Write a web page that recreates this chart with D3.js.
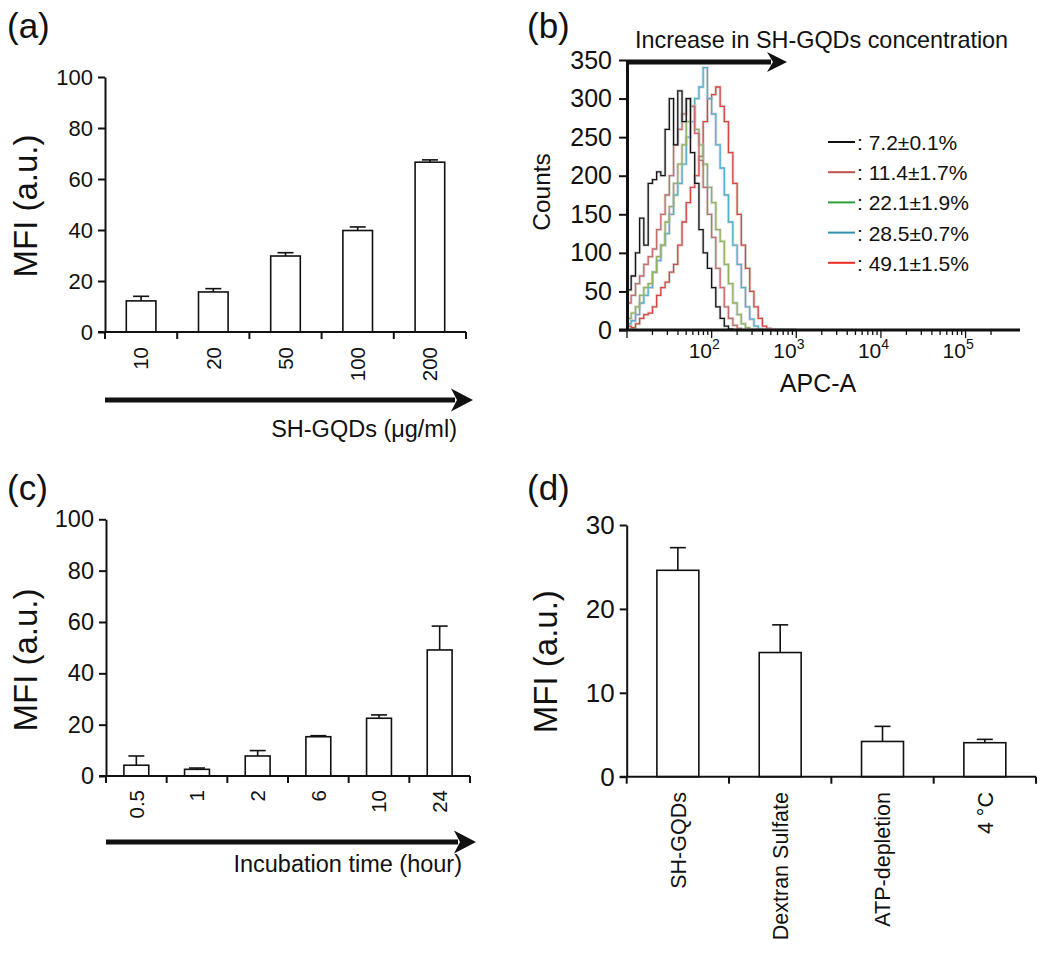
<!DOCTYPE html>
<html><head><meta charset="utf-8">
<script src="https://cdn.jsdelivr.net/npm/d3@7"></script>
<style>body{margin:0;background:#fff} svg{display:block}</style>
</head><body>
<svg id="chart" width="1050" height="962"></svg>
<script>
// ---------------- DATA ----------------
// (a) concentration
const concLabels = ["10", "20", "50", "100", "200"];
const concMFI = [12.2, 15.7, 29.8, 39.8, 66.6];
const concErr = [1.8, 1.3, 1.3, 1.4, 0.9];
const concTicks = [0, 20, 40, 60, 80, 100];

// (c) incubation time
const timeLabels = ["0.5", "1", "2", "6", "10", "24"];
const timeMFI = [4.2, 2.6, 7.8, 15.3, 22.5, 49.1];
const timeErr = [3.6, 0.5, 2.1, 0.4, 1.3, 9.3];
const timeTicks = [0, 20, 40, 60, 80, 100];

// (d) inhibitors
const inhibLabels = ["SH-GQDs", "Dextran Sulfate", "ATP-depletion", "4 \u00B0C"];
const inhibMFI = [24.6, 14.8, 4.2, 4.05];
const inhibErr = [2.7, 3.3, 1.8, 0.4];
const inhibTicks = [0, 10, 20, 30];

// (b) flow cytometry histograms (APC-A bin edges, counts per bin)
const apcBinEdges = [10, 11.2, 12.6, 14.1, 15.8, 17.8, 20, 22.4, 25.1, 28.2,
  31.6, 35.5, 39.8, 44.7, 50.1, 56.2, 63.1, 70.8, 79.4, 89.1,
  100, 112, 126, 141, 158, 178, 200, 224, 251, 282,
  316, 355, 398, 447, 501, 562, 631, 708, 794, 891, 1000];
const counts72 = [52, 70, 100, 145, 110, 190, 195, 205, 200, 260, 300, 240, 310, 270, 300, 230, 190, 130, 100, 80, 55, 30, 15, 5, 1, 0, 0, 0, 0, 0, 0, 0, 0, 0, 0, 0, 0, 0, 0, 0];
const counts114 = [35, 45, 60, 70, 85, 95, 105, 130, 150, 175, 200, 240, 260, 280, 300, 290, 255, 220, 185, 150, 120, 80, 55, 30, 15, 6, 2, 0, 0, 0, 0, 0, 0, 0, 0, 0, 0, 0, 0, 0];
const counts221 = [15, 22, 30, 45, 55, 60, 75, 95, 110, 140, 160, 190, 215, 240, 270, 290, 260, 240, 215, 185, 165, 130, 115, 85, 60, 35, 20, 8, 3, 0, 0, 0, 0, 0, 0, 0, 0, 0, 0, 0];
const counts285 = [8, 12, 20, 35, 45, 55, 75, 90, 110, 125, 150, 175, 190, 215, 250, 270, 300, 315, 340, 300, 280, 240, 210, 175, 140, 110, 85, 55, 30, 14, 5, 1, 0, 0, 0, 0, 0, 0, 0, 0];
const counts491 = [5, 3, 8, 15, 20, 22, 30, 45, 55, 62, 75, 85, 110, 140, 165, 185, 200, 225, 270, 300, 305, 315, 290, 270, 230, 190, 150, 110, 80, 50, 30, 15, 5, 2, 0, 0, 0, 0, 0, 0];
const legendLabels = [": 7.2\u00B10.1%", ": 11.4\u00B11.7%", ": 22.1\u00B11.9%", ": 28.5\u00B10.7%", ": 49.1\u00B11.5%"];
const countTicks = [0, 50, 100, 150, 200, 250, 300, 350];

// ---------------- STYLE ----------------
const FONT = "'Liberation Sans', Arial, Helvetica, sans-serif";
const INK = "#111";
const legendColors = ["#111111", "#c0504d", "#2ea03a", "#2f8fb0", "#f02a22"];
const curveColors = ["#151515", "#c86a66", "#8fb35a", "#4cb0cf", "#d8463e"];

const svg = d3.select("#chart");
svg.append("rect").attr("width", 1050).attr("height", 962).attr("fill", "#fff");

function txt(g, x, y, s, size, anchor, rot) {
  const t = g.append("text").attr("font-family", FONT).attr("font-size", size)
    .attr("fill", INK).attr("text-anchor", anchor || "start").text(s);
  if (rot) t.attr("transform", `translate(${x},${y}) rotate(${rot})`);
  else t.attr("x", x).attr("y", y);
  return t;
}

function arrow(g, x0, x1, y, thick, headLen, headHalf) {
  g.append("line").attr("x1", x0).attr("x2", x1 - headLen + 4).attr("y1", y).attr("y2", y)
    .attr("stroke", INK).attr("stroke-width", thick);
  g.append("path")
    .attr("d", `M${x1},${y} L${x1 - headLen},${y - headHalf} L${x1 - headLen + 6},${y} L${x1 - headLen},${y + headHalf} Z`)
    .attr("fill", INK);
}

function barPanel(o) {
  const g = svg.append("g");
  const x = d3.scaleBand().domain(o.cats).range([o.x0, o.x1]).paddingInner(0.59).paddingOuter(0.295);
  const y = d3.scaleLinear().domain(o.domain).range([o.y0, o.y1]);
  const bw = x.bandwidth();
  // error bars
  const eb = g.selectAll("g.err").data(o.cats).join("g");
  eb.append("line")
    .attr("x1", d => x(d) + bw / 2).attr("x2", d => x(d) + bw / 2)
    .attr("y1", (d, i) => y(o.vals[i])).attr("y2", (d, i) => y(o.vals[i] + o.errs[i]))
    .attr("stroke", INK).attr("stroke-width", 1.6);
  eb.append("line")
    .attr("x1", d => x(d) + bw / 2 - 8).attr("x2", d => x(d) + bw / 2 + 8)
    .attr("y1", (d, i) => y(o.vals[i] + o.errs[i])).attr("y2", (d, i) => y(o.vals[i] + o.errs[i]))
    .attr("stroke", INK).attr("stroke-width", 1.6);
  // bars
  g.selectAll("rect.bar").data(o.cats).join("rect").attr("class", "bar")
    .attr("x", d => x(d)).attr("width", bw)
    .attr("y", (d, i) => y(o.vals[i])).attr("height", (d, i) => y(0) - y(o.vals[i]))
    .attr("fill", "#fff").attr("stroke", INK).attr("stroke-width", 1.6);
  // y axis
  const ya = d3.axisLeft(y).tickValues(o.yTicks).tickSize(7).tickSizeOuter(0).tickPadding(5);
  g.append("g").attr("transform", `translate(${o.x0},0)`).call(ya).call(s => {
    s.select(".domain").attr("stroke", INK).attr("stroke-width", 2);
    s.selectAll(".tick line").attr("stroke", INK).attr("stroke-width", 2);
    s.selectAll(".tick text").attr("font-family", FONT).attr("font-size", o.tickFont).attr("fill", INK);
  });
  // x axis baseline + boundary ticks
  g.append("line").attr("x1", o.x0 - 7).attr("x2", o.x1).attr("y1", y(0)).attr("y2", y(0))
    .attr("stroke", INK).attr("stroke-width", 2);
  const bounds = o.cats.map(c => x(c) - x.step() * x.paddingInner() / 2).concat([o.x1]);
  g.selectAll("line.bt").data(bounds).join("line")
    .attr("x1", d => d).attr("x2", d => d).attr("y1", y(0)).attr("y2", y(0) + 7)
    .attr("stroke", INK).attr("stroke-width", 2);
  // rotated category labels
  o.cats.forEach(c => {
    txt(g, x(c) + bw / 2 + o.catSize * 0.36, o.catTop, c, o.catSize, "end", -90);
  });
  // y label
  txt(g, o.ylx, o.yly, "MFI (a.u.)", 33, "middle", -90);
  return g;
}

// (a)
const ga = barPanel({cats: concLabels, vals: concMFI, errs: concErr, yTicks: concTicks,
  x0: 105, x1: 466, y0: 332, y1: 77, domain: [0, 100], tickFont: 22,
  catSize: 20.5, catTop: 347, ylx: 37, yly: 206});
arrow(ga, 105, 473, 400, 5, 22, 11.5);
txt(ga, 457, 437, "SH-GQDs (\u03BCg/ml)", 23.5, "end");
txt(svg, 7, 38, "(a)", 35, "start");

// (c)
const gc = barPanel({cats: timeLabels, vals: timeMFI, errs: timeErr, yTicks: timeTicks,
  x0: 106, x1: 470, y0: 776, y1: 519.3, domain: [0, 100], tickFont: 23.5,
  catSize: 20.5, catTop: 790, ylx: 36.5, yly: 660});
arrow(gc, 106, 476, 842, 5, 22, 11.5);
txt(gc, 462, 872, "Incubation time (hour)", 23.5, "end");
txt(svg, 7, 500, "(c)", 35, "start");

// (d)
barPanel({cats: inhibLabels, vals: inhibMFI, errs: inhibErr, yTicks: inhibTicks,
  x0: 626.7, x1: 1036, y0: 776.7, y1: 525, domain: [0, 30], tickFont: 26,
  catSize: 21.5, catTop: 792, ylx: 556.5, yly: 661.7});
txt(svg, 527, 500, "(d)", 35, "start");

// (b)
const gb = svg.append("g");
const xB = d3.scaleLog().domain([10, 262144]).range([627, 1001]);
const yB = d3.scaleLinear().domain([0, 350]).range([330, 60]);
const series = [counts491, counts285, counts221, counts114, counts72];
const seriesColorIdx = [4, 3, 2, 1, 0];
const line = d3.line().x(d => xB(d[0])).y(d => yB(d[1])).curve(d3.curveStepAfter);
series.forEach((cnt, si) => {
  const pts = apcBinEdges.map((e, i) => [e, cnt[Math.min(i, cnt.length - 1)]]);
  gb.append("path").attr("d", line(pts)).attr("fill", "none")
    .attr("stroke", "#bdbdbd").attr("stroke-width", 3).attr("stroke-opacity", 0.55);
  gb.append("path").attr("d", line(pts)).attr("fill", "none")
    .attr("stroke", curveColors[seriesColorIdx[si]]).attr("stroke-width", 1.3);
});
// y axis
gb.append("g").attr("transform", "translate(627,0)")
  .call(d3.axisLeft(yB).tickValues(countTicks).tickSize(8).tickSizeOuter(0).tickPadding(7))
  .call(s => {
    s.select(".domain").attr("stroke", INK).attr("stroke-width", 3);
    s.selectAll(".tick line").attr("stroke", INK).attr("stroke-width", 2);
    s.selectAll(".tick text").attr("font-family", FONT).attr("font-size", 25).attr("fill", INK);
  });
// x axis
gb.append("line").attr("x1", 619).attr("x2", 1020).attr("y1", yB(0)).attr("y2", yB(0))
  .attr("stroke", INK).attr("stroke-width", 3);
const bTicks = xB.ticks();
gb.selectAll("line.lt").data(bTicks).join("line")
  .attr("x1", d => xB(d)).attr("x2", d => xB(d)).attr("y1", yB(0))
  .attr("y2", d => Number.isInteger(Math.log10(d)) ? yB(0) + 8 : yB(0) + 5)
  .attr("stroke", INK).attr("stroke-width", 1.3);
bTicks.filter(d => Number.isInteger(Math.log10(d)) && d >= 100).forEach(d => {
  const t = gb.append("text").attr("x", xB(d) - 23).attr("y", 358)
    .attr("font-family", FONT).attr("font-size", 21).attr("fill", INK);
  t.append("tspan").text("10");
  t.append("tspan").attr("font-size", 14).attr("dy", -9).text(String(Math.round(Math.log10(d))));
});
txt(gb, 818, 392, "APC-A", 25, "middle");
txt(gb, 550, 192, "Counts", 24.5, "middle", -90);
// top arrow + title
arrow(gb, 627, 787, 62, 5, 20, 10);
txt(gb, 635, 48, "Increase in SH-GQDs concentration", 23.4, "start");
// legend
legendLabels.forEach((l, i) => {
  const yy = 142 + i * 30.2;
  gb.append("line").attr("x1", 828).attr("x2", 855).attr("y1", yy).attr("y2", yy)
    .attr("stroke", legendColors[i]).attr("stroke-width", 2);
  txt(gb, 857, yy + 8, l, 21, "start");
});
txt(svg, 527, 38, "(b)", 35, "start");
</script>
</body></html>
